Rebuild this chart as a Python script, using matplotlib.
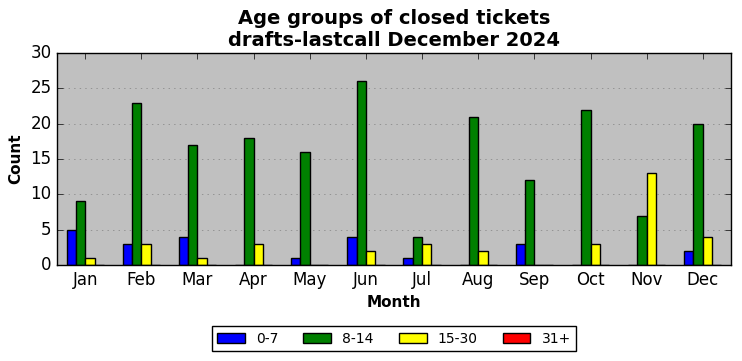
import matplotlib
matplotlib.use('agg')
import matplotlib.pyplot as plt
import numpy as np

plt.style.use('classic')

months = ['Jan', 'Feb', 'Mar', 'Apr', 'May', 'Jun', 'Jul', 'Aug', 'Sep', 'Oct', 'Nov', 'Dec']
age_0_7 = [5, 3, 4, 0, 1, 4, 1, 0, 3, 0, 0, 2]
age_8_14 = [9, 23, 17, 18, 16, 26, 4, 21, 12, 22, 7, 20]
age_15_30 = [1, 3, 1, 3, 0, 2, 3, 2, 0, 3, 13, 4]
age_31_plus = [0, 0, 0, 0, 0, 0, 0, 0, 0, 0, 0, 0]

series = [('0-7', age_0_7, 'blue'), ('8-14', age_8_14, 'green'),
          ('15-30', age_15_30, 'yellow'), ('31+', age_31_plus, 'red')]

fig = plt.figure(figsize=(7.42, 3.61), dpi=100, facecolor='white')
ax = fig.add_axes([0.077, 0.266, 0.908, 0.587])
ax.set_facecolor('#c0c0c0')

x = np.arange(len(months))
w = 0.166
for i, (lab, vals, col) in enumerate(series):
    ax.bar(x + (i - 2) * w, vals, w, color=col, edgecolor='black', label=lab, align='edge')

ax.set_xticks(x)
ax.set_xticklabels(months, fontsize=12)
ax.set_xlim(-0.5, 11.5)
ax.set_ylim(0, 30)
ax.tick_params(axis='y', labelsize=12)
ax.yaxis.grid(True, linestyle=':', color='gray')
ax.set_axisbelow(True)
ax.set_xlabel('Month', fontweight='bold', fontsize=11)
ax.set_ylabel('Count', fontweight='bold', fontsize=11)
ax.set_title('Age groups of closed tickets\ndrafts-lastcall December 2024', fontweight='bold', fontsize=14)
ax.legend(loc='upper center', bbox_to_anchor=(0.5, -0.255), ncol=4, fontsize=10,
          columnspacing=1.8)

plt.savefig('out.png')
